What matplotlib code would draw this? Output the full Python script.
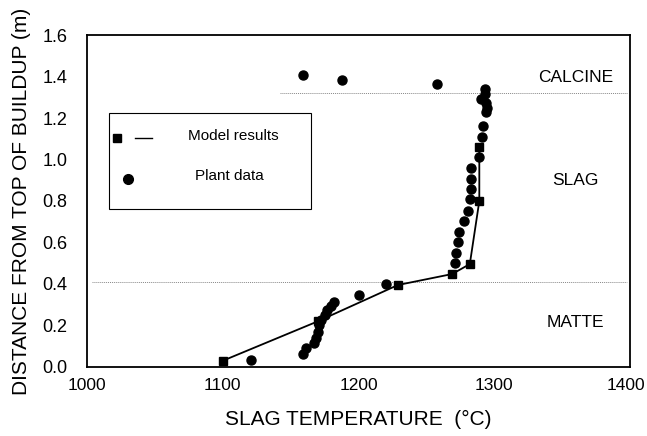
import numpy as np
import matplotlib.pyplot as plt
import matplotlib.transforms as mtransforms
from matplotlib.patches import Rectangle

plt.rcParams['font.family'] = ['Liberation Sans', 'DejaVu Sans']

# model results (temperature C, distance m)
model_t = [1100, 1170, 1229, 1269, 1282, 1289, 1289]
model_d = [0.03, 0.22, 0.395, 0.448, 0.496, 0.80, 1.06]

# plant data
plant_t = [1159, 1188, 1258,
           1293, 1293, 1290, 1294, 1295, 1294, 1292, 1291, 1289,
           1283, 1283, 1283, 1282, 1281, 1278, 1274, 1273, 1272, 1271,
           1220, 1200, 1182, 1180, 1177, 1175, 1172.5, 1171, 1170, 1169, 1167.5,
           1161, 1159, 1121]
plant_d = [1.407, 1.383, 1.362,
           1.338, 1.318, 1.29, 1.27, 1.25, 1.23, 1.16, 1.107, 1.01,
           0.957, 0.906, 0.858, 0.812, 0.753, 0.702, 0.652, 0.601, 0.551, 0.503,
           0.398, 0.347, 0.315, 0.294, 0.275, 0.251, 0.227, 0.202, 0.17, 0.138, 0.114,
           0.09, 0.061, 0.034]

# layer boundaries
calcine_y = 1.32
matte_y = 0.41

fig = plt.figure(figsize=(6.47, 4.36), dpi=100)
ax = fig.add_axes([0.1345, 0.1583, 0.8392, 0.7614])

ax.hlines(calcine_y, 1142, 1398, colors='#888888', linestyles=(0, (1, 1)), linewidth=0.7)
ax.hlines(matte_y, 1004, 1398, colors='#888888', linestyles=(0, (1, 1)), linewidth=0.7)

ax.plot(model_t, model_d, color='black', linewidth=1.3, marker='s', markersize=5.5, zorder=3)
ax.plot(plant_t, plant_d, linestyle='none', marker='o', markersize=6.5, color='black', zorder=4)

ax.set_xlim(1000, 1400)
ax.set_ylim(0, 1.6)
ax.set_xticks([1000, 1100, 1200, 1300, 1400])
ax.set_yticks(np.arange(0, 1.61, 0.2))
ax.yaxis.set_major_formatter(plt.FormatStrFormatter('%.1f'))
ax.tick_params(length=0, labelsize=13)
ax.tick_params(axis='y', pad=14)
ax.tick_params(axis='x', pad=8, labelsize=12.5)
for s in ax.spines.values():
    s.set_linewidth(1.3)

# nudge the last x label inside the figure
last = ax.get_xticklabels()[-1]
last.set_transform(last.get_transform() +
                   mtransforms.ScaledTranslation(-4 / 100, 0, fig.dpi_scale_trans))

ax.set_xlabel('SLAG TEMPERATURE  (\u00b0C)', fontsize=15, labelpad=12)
ax.set_ylabel('DISTANCE FROM TOP OF BUILDUP (m)', fontsize=15, labelpad=8)

ax.text(1360, 1.395, 'CALCINE', fontsize=12.5, ha='center', va='center')
ax.text(1360, 0.90, 'SLAG', fontsize=12.5, ha='center', va='center')
ax.text(1360, 0.215, 'MATTE', fontsize=12.5, ha='center', va='center')

# legend box
tr = ax.transAxes
ax.add_patch(Rectangle((0.04, 0.475), 0.372, 0.29, transform=tr, fill=False,
                       edgecolor='black', linewidth=0.8))
ax.plot([0.055], [0.69], 's', color='black', markersize=6, transform=tr)
ax.plot([0.088, 0.12], [0.69, 0.69], color='black', linewidth=1, transform=tr)
ax.text(0.186, 0.695, 'Model results', fontsize=11, transform=tr, va='center')
ax.plot([0.075], [0.565], 'o', color='black', markersize=7, transform=tr)
ax.text(0.198, 0.575, 'Plant data', fontsize=11, transform=tr, va='center')

fig.savefig('out.png', dpi=100)
